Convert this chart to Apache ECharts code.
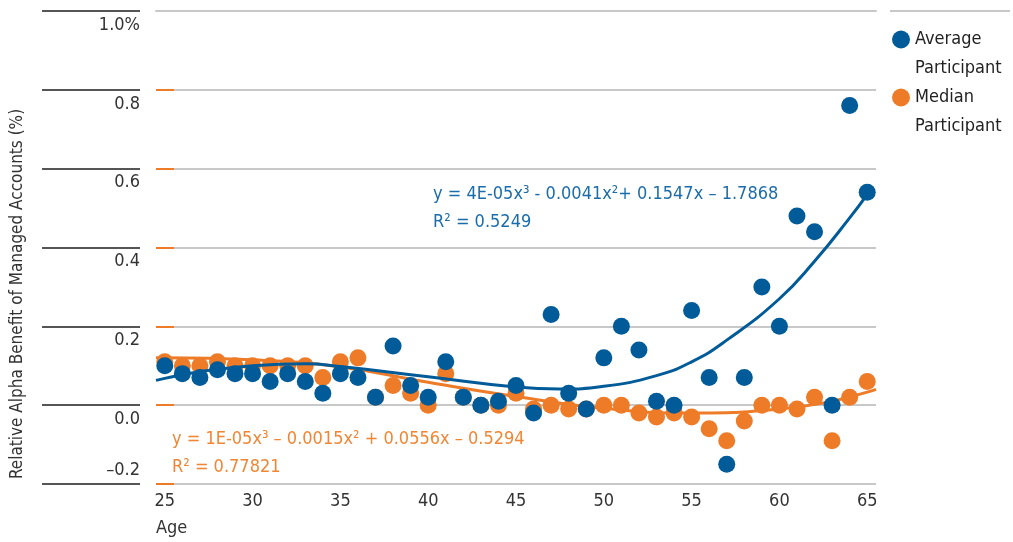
<!DOCTYPE html>
<html>
<head>
<meta charset="utf-8">
<script src="https://cdn.jsdelivr.net/npm/echarts@6/dist/echarts.min.js"></script>
<style>
  html, body { margin: 0; padding: 0; background: #fff; }
  #chart { width: 1013px; height: 542px; }
</style>
</head>
<body>
<div id="chart"></div>
<script>
// ages on the x axis
var ages = [25, 26, 27, 28, 29, 30, 31, 32, 33, 34, 35, 36, 37, 38, 39, 40, 41, 42, 43, 44, 45,
            46, 47, 48, 49, 50, 51, 52, 53, 54, 55, 56, 57, 58, 59, 60, 61, 62, 63, 64, 65];
// average participant
var avgValues = [0.10, 0.08, 0.07, 0.09, 0.08, 0.08, 0.06, 0.08, 0.06, 0.03, 0.08, 0.07, 0.02, 0.15, 0.05, 0.02, 0.11, 0.02, 0.00, 0.01, 0.05,
                 -0.02, 0.23, 0.03, -0.01, 0.12, 0.20, 0.14, 0.01, 0.00, 0.24, 0.07, -0.15, 0.07, 0.30, 0.20, 0.48, 0.44, 0.00, 0.76, 0.54];
// median participant
var medValues = [0.11, 0.10, 0.10, 0.11, 0.10, 0.10, 0.10, 0.10, 0.10, 0.07, 0.11, 0.12, 0.02, 0.05, 0.03, 0.00, 0.08, 0.02, 0.00, 0.00, 0.03,
                 -0.01, 0.00, -0.01, -0.01, 0.00, 0.00, -0.02, -0.03, -0.02, -0.03, -0.06, -0.09, -0.04, 0.00, 0.00, -0.01, 0.02, -0.09, 0.02, 0.06];
// trend lines
var avgFitX = [24.5, 25, 27, 30, 33, 35, 40, 45, 47.5, 50, 53, 55, 57, 60, 62, 64, 65];
var avgFitY = [0.063, 0.068, 0.085, 0.100, 0.105, 0.098, 0.072, 0.046, 0.041, 0.048, 0.075, 0.110, 0.165, 0.270, 0.365, 0.475, 0.535];
var medFitX = [24.5, 25, 30, 35, 40, 45, 50, 55, 60, 63, 65, 65.5];
var medFitY = [0.120, 0.120, 0.115, 0.097, 0.058, 0.022, -0.008, -0.020, -0.010, 0.010, 0.033, 0.040];
var xTicks = [25, 30, 35, 40, 45, 50, 55, 60, 65];
var yTickLabels = { '1': '1.0%', '0.8': '0.8', '0.6': '0.6', '0.4': '0.4', '0.2': '0.2', '0': '0.0', '-0.2': '–0.2' };

var FONT = "'DejaVu Sans Condensed', sans-serif";
var BLUE = '#005b98';
var ORANGE = '#ee7b27';
var GRID = '#c8c8c8';

function pairs(xs, ys) {
    var res = [];
    for (var i = 0; i < xs.length; i++) res.push([xs[i], ys[i]]);
    return res;
}

var chart = echarts.init(document.getElementById('chart'));

var option = {
    animation: false,
    textStyle: { fontFamily: FONT },
    grid: { left: 156, right: 137, top: 11, bottom: 58, outerBoundsMode: 'none', containLabel: false },
    legend: {
        orient: 'vertical',
        left: 887,
        top: -9,
        itemGap: -29,
        icon: 'circle',
        itemWidth: 18,
        itemHeight: 18,
        data: ['Average Participant', 'Median Participant'],
        formatter: function (name) { return '\n' + name.replace(' ', '\n'); },
        textStyle: { fontFamily: FONT, fontSize: 18, color: '#222', lineHeight: 29 }
    },
    xAxis: [{
        type: 'value',
        min: 24.5,
        max: 65.5,
        splitLine: { show: false },
        axisLine: { show: false },
        axisTick: { show: false },
        axisLabel: {
            customValues: xTicks,
            fontFamily: FONT, fontSize: 18, color: '#333', margin: 8
        }
    }, {
        // top rule at 1.0
        type: 'value',
        position: 'top',
        min: 24.5,
        max: 65.5,
        splitLine: { show: false },
        axisTick: { show: false },
        axisLabel: { show: false },
        axisLine: { show: true, onZero: false, lineStyle: { color: GRID, width: 2 } }
    }],
    yAxis: [{
        type: 'value',
        min: -0.2,
        max: 1.0,
        interval: 0.2,
        axisLine: { show: false },
        axisTick: {
            show: true, inside: true, length: 18,
            customValues: [-0.2, 0, 0.2, 0.4, 0.6, 0.8],
            lineStyle: { color: ORANGE, width: 2 }
        },
        splitLine: { lineStyle: { color: GRID, width: 2 } },
        axisLabel: {
            fontFamily: FONT, fontSize: 18, color: '#333', margin: 16,
            lineHeight: 28, verticalAlign: 'middle',
            formatter: function (v) {
                var key = String(Math.round(v * 10) / 10);
                var t = yTickLabels[key];
                return v < -0.1 ? t + '\n' : '\n' + t;
            }
        }
    }, {
        type: 'value',
        position: 'left',
        offset: 16,
        min: -0.2,
        max: 1.0,
        interval: 0.2,
        axisLine: { show: false },
        axisLabel: { show: false },
        splitLine: { show: false },
        axisTick: { show: true, length: 98, lineStyle: { color: '#555', width: 2 } }
    }],
    graphic: [
        {
            type: 'text', x: 18, y: 294, rotation: Math.PI / 2,
            style: { text: 'Relative Alpha Benefit of Managed Accounts (%)', fontFamily: FONT, fontSize: 17, fill: '#333', align: 'center', verticalAlign: 'middle' }
        },
        {
            type: 'text', left: 156, top: 519,
            style: { text: 'Age', fontFamily: FONT, fontSize: 18, fill: '#333' }
        },
        {
            type: 'line', shape: { x1: 890, y1: 11, x2: 1010, y2: 11 },
            style: { stroke: GRID, lineWidth: 2 }
        },
        {
            type: 'text', left: 433, top: 180,
            style: { text: 'y = 4E-05x³ - 0.0041x²+ 0.1547x – 1.7868\nR² = 0.5249', fontFamily: FONT, fontSize: 18, lineHeight: 28, fill: '#1b6cab' }
        },
        {
            type: 'text', left: 172, top: 425,
            style: { text: 'y = 1E-05x³ – 0.0015x² + 0.0556x – 0.5294\nR² = 0.77821', fontFamily: FONT, fontSize: 18, lineHeight: 28, fill: '#f08634' }
        }
    ],
    series: [
        {
            name: 'Median Participant',
            type: 'scatter',
            symbolSize: 17,
            itemStyle: { color: ORANGE, opacity: 1 },
            data: pairs(ages, medValues),
            z: 2
        },
        {
            name: 'Median fit',
            type: 'line',
            smooth: true,
            showSymbol: false,
            lineStyle: { color: ORANGE, width: 3 },
            data: pairs(medFitX, medFitY),
            z: 3
        },
        {
            name: 'Average Participant',
            type: 'scatter',
            symbolSize: 17,
            itemStyle: { color: BLUE, opacity: 1 },
            data: pairs(ages, avgValues),
            z: 4
        },
        {
            name: 'Average fit',
            type: 'line',
            smooth: true,
            showSymbol: false,
            lineStyle: { color: BLUE, width: 3 },
            data: pairs(avgFitX, avgFitY),
            z: 5
        }
    ]
};

chart.setOption(option);
</script>
</body>
</html>
